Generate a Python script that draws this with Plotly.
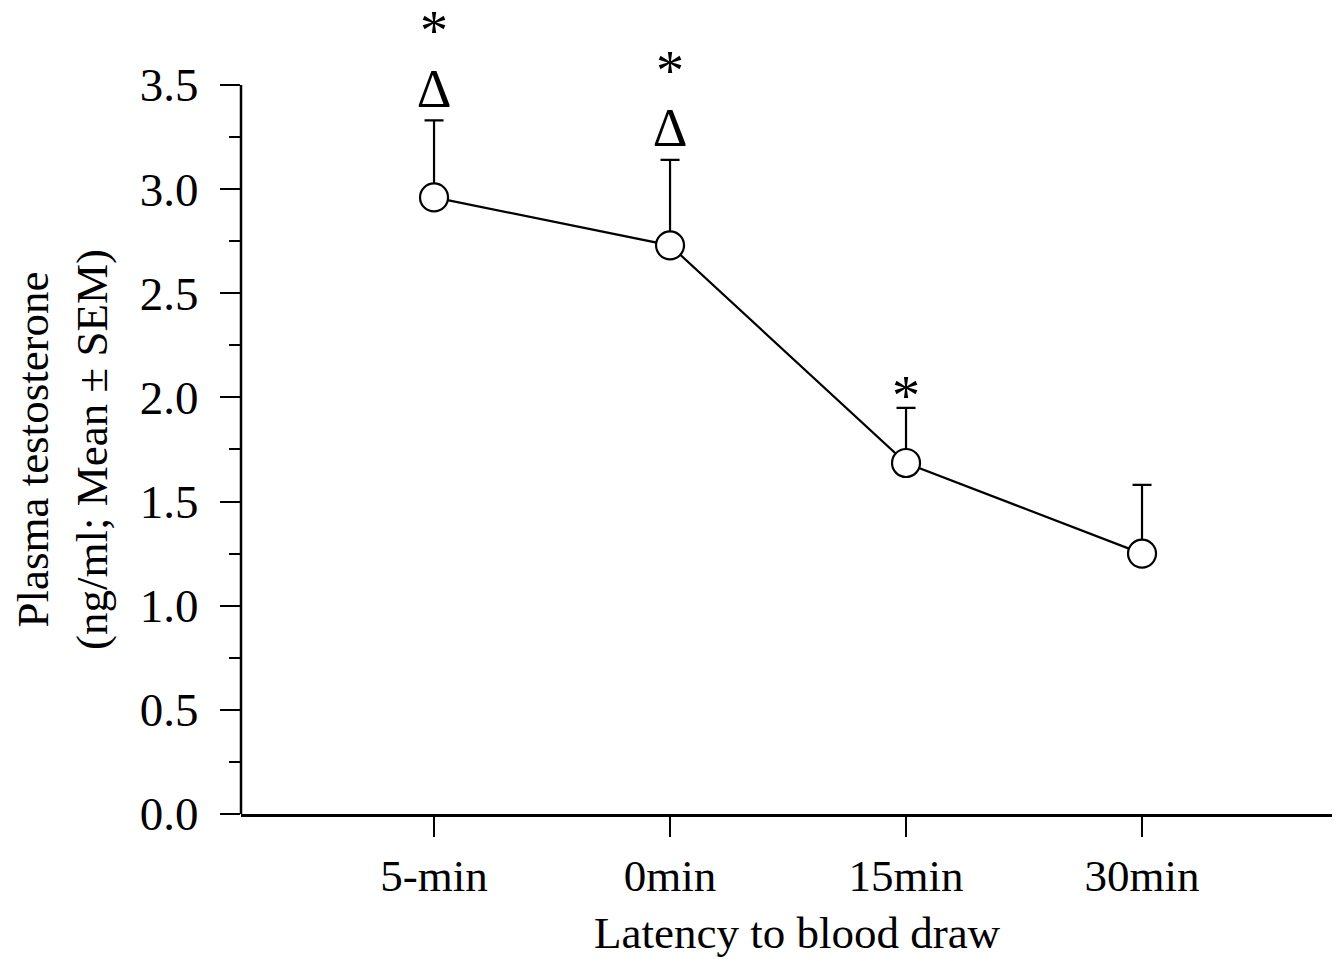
import plotly.graph_objects as go

categories = ["5-min", "0min", "15min", "30min"]
mean_values = [2.96, 2.73, 1.685, 1.25]
sem_values = [0.37, 0.41, 0.265, 0.33]
star_labels = ["*", "*", "*", ""]
delta_labels = ["Δ", "Δ", "", ""]
y_ticks = [0.0, 0.5, 1.0, 1.5, 2.0, 2.5, 3.0, 3.5]
y_minor = [0.25, 0.75, 1.25, 1.75, 2.25, 2.75, 3.25]
y_title = "Plasma testosterone<br>(ng/ml; Mean ± SEM)"
x_title = "Latency to blood draw"

x_pos = list(range(len(categories)))
FONT = "Liberation Serif, Times New Roman, serif"

fig = go.Figure()

fig.add_trace(go.Scatter(
    x=x_pos, y=mean_values, mode="lines+markers",
    line=dict(color="black", width=2.2),
    marker=dict(symbol="circle", size=28, color="white",
                line=dict(color="black", width=2.2)),
    error_y=dict(type="data", symmetric=False, array=sem_values,
                 arrayminus=[0] * len(sem_values),
                 color="black", thickness=2.2, width=9.5),
    cliponaxis=False, showlegend=False,
))

# Delta markers above error bars
d_x = [x for x, t in zip(x_pos, delta_labels) if t]
d_y = [m + s + 0.13 for m, s, t in zip(mean_values, sem_values, delta_labels) if t]
fig.add_trace(go.Scatter(
    x=d_x, y=d_y, mode="text", text=[t for t in delta_labels if t],
    textposition="middle center",
    textfont=dict(family=FONT, size=54, color="black"),
    cliponaxis=False, showlegend=False,
))

# Asterisks
s_x, s_y, s_t = [], [], []
for x, m, s, st, dt in zip(x_pos, mean_values, sem_values, star_labels, delta_labels):
    if st:
        s_x.append(x)
        s_y.append(m + s + (0.405 if dt else 0.031))
        s_t.append(st)
fig.add_trace(go.Scatter(
    x=s_x, y=s_y, mode="text", text=s_t, textposition="middle center",
    textfont=dict(family=FONT, size=56, color="black"),
    cliponaxis=False, showlegend=False,
))

# y-axis line drawn only from 0 to 3.5 (the range extends above for the annotations)
fig.add_shape(type="line", xref="x domain", yref="y", x0=0, x1=0,
              y0=y_ticks[0], y1=y_ticks[-1], line=dict(color="black", width=2.5))

# y-axis title centred on the 0-3.5 axis span
fig.add_annotation(text=y_title, xref="paper", yref="y",
                   x=-0.1636, y=(y_ticks[0] + y_ticks[-1]) / 2,
                   xanchor="center", yanchor="middle", textangle=-90,
                   showarrow=False, font=dict(family=FONT, size=45, color="black"))

# x-axis title
fig.add_annotation(text=x_title, xref="paper", yref="paper",
                   x=0.5105, y=-0.1484, xanchor="center", yanchor="middle",
                   showarrow=False, font=dict(family=FONT, size=45, color="black"))

fig.update_layout(
    width=1342, height=959,
    margin=dict(l=241, r=10, t=12, b=145),
    paper_bgcolor="white", plot_bgcolor="white",
    font=dict(family=FONT, size=44, color="black"),
    xaxis=dict(
        range=[-0.818, 3.805], tickvals=x_pos, ticktext=categories,
        showline=True, linecolor="black", linewidth=2.5,
        ticks="outside", ticklen=20, tickwidth=2, tickcolor="black",
        showgrid=False, zeroline=False, automargin=False,
        tickfont=dict(family=FONT, size=45),
    ),
    yaxis=dict(
        range=[0, 3.85], tickvals=y_ticks, ticktext=[f"{v:.1f}" for v in y_ticks],
        showline=False,
        ticks="outside", ticklen=20, tickwidth=2, tickcolor="black",
        minor=dict(tickvals=y_minor, ticks="outside", ticklen=11, tickwidth=2, tickcolor="black"),
        showgrid=False, zeroline=False, automargin=False,
        ticklabelstandoff=12,
        tickfont=dict(family=FONT, size=47),
    ),
)

# remove the default 8px page margin so the figure fills the window exactly
fig.write_html("out.html", config={"displayModeBar": False},
               post_script="document.body.style.margin='0';document.body.style.overflow='hidden';")
